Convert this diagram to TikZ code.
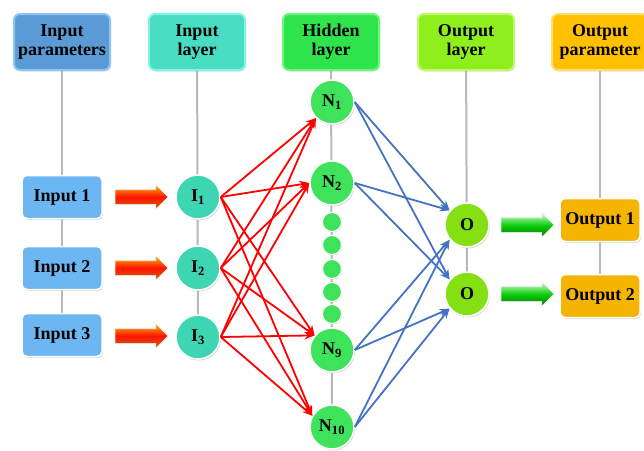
\documentclass[tikz,border=0pt]{standalone}
\usepackage{fontspec}
\setmainfont{Liberation Serif}
\usetikzlibrary{shapes.arrows,shadows,arrows.meta,backgrounds}
\definecolor{hblue}{HTML}{5B9BD5}
\definecolor{hbluel}{HTML}{8CC4F5}
\definecolor{hturq}{HTML}{48DCC2}
\definecolor{hturql}{HTML}{7FF5EA}
\definecolor{hgreen}{HTML}{2FE34C}
\definecolor{hgreenl}{HTML}{6FF57E}
\definecolor{hlime}{HTML}{8EEF1C}
\definecolor{hlimel}{HTML}{C2F86A}
\definecolor{hgold}{HTML}{FFC000}
\definecolor{hgoldl}{HTML}{FFE066}
\definecolor{inblue}{HTML}{6CB6F2}
\definecolor{nturq}{HTML}{3ED6B2}
\definecolor{ngreen}{HTML}{3FE35B}
\definecolor{nlime}{HTML}{84E012}
\definecolor{outgold}{HTML}{F5B400}
\definecolor{linkblue}{HTML}{4472C4}
\tikzset{
  lbl/.style={font=\bfseries\fontsize{18}{19}\selectfont, text=black},
  hdr/.style={lbl, rounded corners=6pt, minimum width=96pt, minimum height=56pt,
    align=center, line width=2pt, inner sep=1pt,
    drop shadow={opacity=0.25, shadow xshift=1pt, shadow yshift=-1.5pt}},
  pbox/.style={lbl, rounded corners=5pt, draw=white, line width=1.5pt,
    minimum width=80pt, minimum height=43pt,
    drop shadow={opacity=0.3, shadow xshift=1pt, shadow yshift=-1.5pt}},
  neuron/.style={lbl, circle, draw=white, line width=1.5pt, minimum size=44pt, inner sep=0pt,
    drop shadow={opacity=0.3, shadow xshift=1pt, shadow yshift=-1.5pt}},
  dotn/.style={circle, fill=ngreen, draw=white, line width=1pt, minimum size=19pt, inner sep=0pt,
    drop shadow={opacity=0.3, shadow xshift=0.7pt, shadow yshift=-1pt}},
  fat/.style={single arrow, minimum height=53pt, inner xsep=0pt, inner ysep=7pt,
    single arrow head extend=5pt, single arrow head indent=0pt,
    draw=white!85!gray, line width=0.6pt},
  redfat/.style={fat, top color=orange!60!yellow, bottom color=orange!80!black, middle color=red!85!orange},
  greenfat/.style={fat, top color=green!15!white, bottom color=green!45!black, middle color=green!80!black!95},
  gline/.style={draw=gray!55, line width=2pt},
  redl/.style={draw=red, line width=1.8pt, -{Stealth[length=10pt,width=7.5pt]}},
  bluel/.style={draw=linkblue, line width=1.8pt, -{Stealth[length=10pt,width=7.5pt]}}
}
\begin{document}
\begin{tikzpicture}[x=1pt,y=-1pt]
\useasboundingbox (0,0) rectangle (644,450);
% headers
\node[hdr, fill=hblue, draw=hbluel] (h1) at (62,42) {Input\\parameters};
\node[hdr, fill=hturq, draw=hturql] (h2) at (197,42) {Input\\layer};
\node[hdr, fill=hgreen, draw=hgreenl] (h3) at (331,42) {Hidden\\layer};
\node[hdr, fill=hlime, draw=hlimel] (h4) at (466,42) {Output\\layer};
\node[hdr, fill=hgold, draw=hgoldl] (h5) at (600,42) {Output\\parameter};
% input boxes
\node[pbox, fill=inblue] (in1) at (62,197) {Input 1};
\node[pbox, fill=inblue] (in2) at (62,268) {Input 2};
\node[pbox, fill=inblue] (in3) at (62,335) {Input 3};
% input neurons
\node[neuron, fill=nturq] (i1) at (198,197) {I\textsubscript{1}};
\node[neuron, fill=nturq] (i2) at (198,268) {I\textsubscript{2}};
\node[neuron, fill=nturq] (i3) at (198,337) {I\textsubscript{3}};
% hidden neurons
\node[neuron, fill=ngreen] (n1) at (332,102) {N\textsubscript{1}};
\node[neuron, fill=ngreen] (n2) at (332,183) {N\textsubscript{2}};
\node[dotn] (d1) at (332,222) {};
\node[dotn] (d2) at (332,245) {};
\node[dotn] (d3) at (332,269) {};
\node[dotn] (d4) at (332,292) {};
\node[dotn] (d5) at (332,314) {};
\node[neuron, fill=ngreen] (n9) at (332,350) {N\textsubscript{9}};
\node[neuron, fill=ngreen] (n10) at (332,427) {N\textsubscript{10}};
% output neurons
\node[neuron, fill=nlime] (o1) at (467,225) {O};
\node[neuron, fill=nlime] (o2) at (467,294) {O};
% output boxes
\node[pbox, fill=outgold] (out1) at (600,220) {Output 1};
\node[pbox, fill=outgold] (out2) at (600,296) {Output 2};
% fat arrows
\node[redfat] (a1) at (138,197) {};
\node[redfat] (a2) at (138,268) {};
\node[redfat] (a3) at (138,336) {};
\node[greenfat] (a4) at (524,225) {};
\node[greenfat] (a5) at (524,294) {};
% links input -> hidden
\foreach \s in {i1,i2,i3} {
  \draw[redl] (\s.east) -- (n1.225);
  \draw[redl] (\s.east) -- (n2.west);
  \draw[redl] (\s.east) -- (n9.140);
  \draw[redl] (\s.east) -- (n10.150);
}
% links hidden -> output
\foreach \s in {n1,n2} {
  \draw[bluel] (\s.east) -- (o1.140);
  \draw[bluel] (\s.east) -- (o2.140);
}
\foreach \s in {n9,n10} {
  \draw[bluel] (\s.east) -- (o1.220);
  \draw[bluel] (\s.east) -- (o2.220);
}
% vertical gray lines
\begin{pgfonlayer}{background}
\draw[gline] (h1.center) -- (in3.center);
\draw[gline] (h2.center) -- (i3.center);
\draw[gline] (h3.center) -- (n10.center);
\draw[gline] (h4.center) -- (o2.center);
\draw[gline] (h5.center) -- (out2.center);
\end{pgfonlayer}
\end{tikzpicture}
\end{document}
